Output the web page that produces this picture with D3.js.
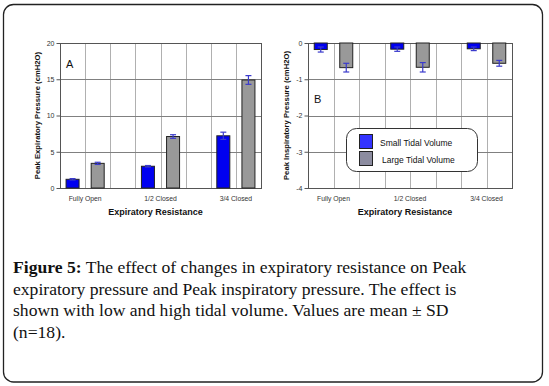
<!DOCTYPE html>
<html>
<head>
<meta charset="utf-8">
<script src="https://cdn.jsdelivr.net/npm/d3@7"></script>
<style>
  body { margin: 0; background: #fff; }
  svg { display: block; }
  .tick text { font-family: "Liberation Sans", Arial, sans-serif; }
</style>
</head>
<body>
<div id="chart"></div>
<script>
// data
const categories = ["Fully Open", "1/2 Closed", "3/4 Closed"];
const seriesNames = ["Small Tidal Volume", "Large Tidal Volume"];

const expSmall = [1.2, 3.0, 7.2];
const expSmallSD = [0.1, 0.1, 0.5];
const expLarge = [3.4, 7.1, 14.9];
const expLargeSD = [0.15, 0.25, 0.6];

const inspSmall = [-0.18, -0.17, -0.16];
const inspSmallSD = [0.07, 0.06, 0.05];
const inspLarge = [-0.68, -0.67, -0.56];
const inspLargeSD = [0.12, 0.13, 0.08];

const expTicks = [0, 5, 10, 15, 20];
const inspTicks = [0, -1, -2, -3, -4];

const captionLines = [
  ["Figure 5:", " The effect of changes in expiratory resistance on Peak"],
  ["", "expiratory pressure and Peak inspiratory pressure. The effect is"],
  ["", "shown with low and high tidal volume. Values are mean \u00b1 SD"],
  ["", "(n=18)."]
];

const W = 549, H = 386;
const sans = '"Liberation Sans", Arial, sans-serif';
const colors = { small: "#0000f0", large: "#999999", err: "#3a3acc" };

const svg = d3.select("#chart").append("svg")
    .attr("width", W)
    .attr("height", H);

svg.append("rect").attr("width", W).attr("height", H).attr("fill", "#fff");

// outer frame
svg.append("rect")
    .attr("x", 3.5).attr("y", 4.5)
    .attr("width", 539).attr("height", 377.5)
    .attr("rx", 10)
    .attr("fill", "none")
    .attr("stroke", "#222")
    .attr("stroke-width", 1.3);

function drawPanel(opt) {
    const g = svg.append("g");
    const left = opt.left, right = opt.right, top = 43, bottom = 188;

    // 8 slots: small/large for each category with one empty slot between groups
    const slots = d3.range(8);
    const x = d3.scaleBand().domain(slots).range([left, right]).padding(0);
    const y = d3.scaleLinear().domain(opt.domain).range([bottom, top]);
    const bw = 13;

    // vertical gridlines
    g.selectAll(".vgrid").data(slots.slice(1))
      .enter().append("line")
        .attr("x1", d => Math.round(x(d)) + 0.5).attr("x2", d => Math.round(x(d)) + 0.5)
        .attr("y1", top).attr("y2", bottom)
        .attr("stroke", "#b0b0b0").attr("stroke-width", 1);

    // horizontal gridlines
    g.selectAll(".hgrid").data(opt.ticks)
      .enter().append("line")
        .attr("x1", left).attr("x2", right)
        .attr("y1", d => Math.round(y(d)) + 0.5).attr("y2", d => Math.round(y(d)) + 0.5)
        .attr("stroke", "#808080").attr("stroke-width", 1);

    // plot frame
    g.append("rect")
        .attr("x", left + 0.5).attr("y", top + 0.5)
        .attr("width", right - left).attr("height", bottom - top)
        .attr("fill", "none").attr("stroke", "#555").attr("stroke-width", 1);

    const bars = [];
    categories.forEach((c, i) => {
        bars.push({ slot: i * 3, v: opt.small[i], sd: opt.smallSD[i], s: "small" });
        bars.push({ slot: i * 3 + 1, v: opt.large[i], sd: opt.largeSD[i], s: "large" });
    });

    g.selectAll(".bar").data(bars)
      .enter().append("rect")
        .attr("class", "bar")
        .attr("x", d => x(d.slot) + (x.bandwidth() - bw) / 2)
        .attr("y", d => Math.min(y(d.v), y(0)))
        .attr("width", bw)
        .attr("height", d => Math.abs(y(d.v) - y(0)))
        .attr("fill", d => colors[d.s])
        .attr("stroke", "#222").attr("stroke-width", 1);

    // error bars
    const eb = g.selectAll(".err").data(bars).enter().append("g")
        .attr("stroke", colors.err).attr("stroke-width", 1.2);
    const cx = d => x(d.slot) + x.bandwidth() / 2;
    eb.append("line")
        .attr("x1", cx).attr("x2", cx)
        .attr("y1", d => y(d.v - d.sd)).attr("y2", d => y(d.v + d.sd));
    eb.append("line")
        .attr("x1", d => cx(d) - 3).attr("x2", d => cx(d) + 3)
        .attr("y1", d => y(d.v - d.sd)).attr("y2", d => y(d.v - d.sd));
    eb.append("line")
        .attr("x1", d => cx(d) - 3).attr("x2", d => cx(d) + 3)
        .attr("y1", d => y(d.v + d.sd)).attr("y2", d => y(d.v + d.sd));

    // y axis
    const yAxis = g.append("g")
        .attr("transform", `translate(${left + 0.5},0)`)
        .call(d3.axisLeft(y).tickValues(opt.ticks).tickFormat(d => String(d))
            .tickSize(4).tickPadding(2));
    yAxis.select(".domain").remove();
    yAxis.selectAll("line").attr("stroke", "#555");
    yAxis.selectAll("text").attr("font-size", 7).attr("fill", "#333");

    // x axis labels under each group
    g.selectAll(".cat").data(categories)
      .enter().append("text")
        .attr("x", (d, i) => x(i * 3 + 1))
        .attr("y", 201)
        .attr("text-anchor", "middle")
        .attr("font-family", sans).attr("font-size", 6.8).attr("fill", "#333")
        .text(d => d);

    g.append("text")
        .attr("x", (left + right) / 2 - 5)
        .attr("y", 215)
        .attr("text-anchor", "middle")
        .attr("font-family", sans).attr("font-size", 9).attr("font-weight", "bold")
        .attr("fill", "#111")
        .text("Expiratory Resistance");

    g.append("text")
        .attr("transform", `translate(${opt.titleX},${(top + bottom) / 2}) rotate(-90)`)
        .attr("text-anchor", "middle")
        .attr("font-family", sans).attr("font-size", 7.7).attr("font-weight", "bold")
        .attr("fill", "#111")
        .text(opt.title);

    g.append("text")
        .attr("x", opt.letterX).attr("y", opt.letterY)
        .attr("font-family", sans).attr("font-size", 11)
        .attr("fill", "#111")
        .text(opt.letter);

    return g;
}

drawPanel({
    left: 60, right: 261, domain: [0, 20], ticks: expTicks,
    small: expSmall, smallSD: expSmallSD, large: expLarge, largeSD: expLargeSD,
    title: "Peak Expiratory Pressure (cmH2O)", titleX: 40,
    letter: "A", letterX: 66, letterY: 68
});

const gB = drawPanel({
    left: 308, right: 512, domain: [-4, 0], ticks: inspTicks,
    small: inspSmall, smallSD: inspSmallSD, large: inspLarge, largeSD: inspLargeSD,
    title: "Peak Inspiratory Pressure (cmH2O)", titleX: 289,
    letter: "B", letterX: 314, letterY: 103
});

// legend
const legend = gB.append("g");
legend.append("rect")
    .attr("x", 346.5).attr("y", 128.5)
    .attr("width", 131).attr("height", 43)
    .attr("rx", 10)
    .attr("fill", "#fff").attr("stroke", "#333").attr("stroke-width", 1);
const legendColors = ["#3333ff", "#8c8ca0"];
seriesNames.forEach((name, i) => {
    legend.append("rect")
        .attr("x", 359.5).attr("y", 134.5 + i * 17)
        .attr("width", 13).attr("height", 14)
        .attr("fill", legendColors[i]).attr("stroke", "#222").attr("stroke-width", 1);
    legend.append("text")
        .attr("x", 380 + i * 2).attr("y", 146 + i * 17)
        .attr("font-family", sans).attr("font-size", 8.5).attr("fill", "#111")
        .text(name);
});

// caption, one text per line
captionLines.forEach((ln, i) => {
    const t = svg.append("text")
        .attr("x", 13).attr("y", 273 + i * 21.7)
        .attr("font-family", '"Liberation Serif", "DejaVu Serif", serif')
        .attr("font-size", 17.6)
        .attr("fill", "#111");
    if (ln[0]) t.append("tspan").attr("font-weight", "bold").text(ln[0]);
    t.append("tspan").text(ln[1]);
});
</script>
</body>
</html>
